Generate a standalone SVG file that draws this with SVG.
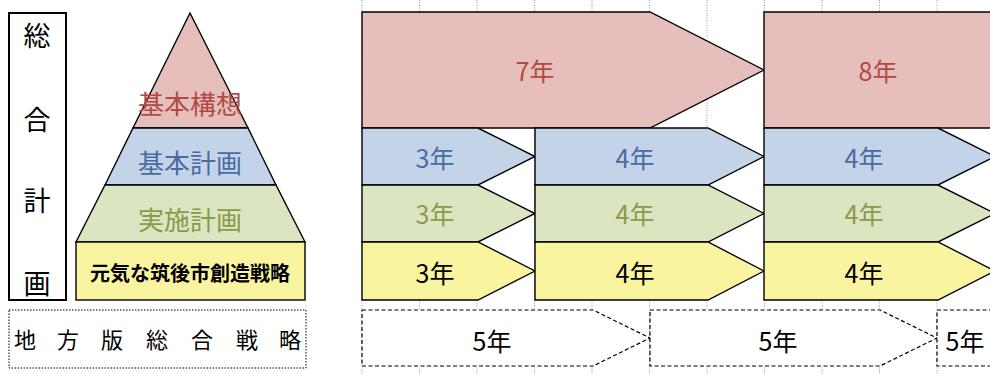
<svg xmlns="http://www.w3.org/2000/svg" width="990" height="374" viewBox="0 0 990 374">
<defs>
<style>
text{font-family:"Noto Sans CJK JP","Noto Sans",sans-serif;text-anchor:middle;dominant-baseline:central}
.grid{stroke:#9a9a9a;stroke-width:1;stroke-dasharray:1 1.5;fill:none}
.sh{stroke:#000;stroke-width:1.4;stroke-linejoin:miter}
.red{fill:#e6bebc}
.blue{fill:#c3d3e8}
.green{fill:#dce5c1}
.yellow{fill:#faf4a0}
.dash{fill:#fff;stroke:#000;stroke-width:1.2;stroke-dasharray:4 2.5}
.tr{fill:#b04a45;font-size:25px}
.tb{fill:#4a6aa2;font-size:25px}
.tg{fill:#8a9a4a;font-size:25px}
.tk{fill:#000;font-size:25px}
.pl{font-size:26px}
</style>
</defs>
<rect width="990" height="374" fill="#fff"/>
<g id="grid" class="grid">
<line x1="362" y1="0" x2="362" y2="374"/>
<line x1="419.5" y1="0" x2="419.5" y2="374"/>
<line x1="477" y1="0" x2="477" y2="374"/>
<line x1="534.5" y1="0" x2="534.5" y2="374"/>
<line x1="592" y1="0" x2="592" y2="374"/>
<line x1="649.5" y1="0" x2="649.5" y2="374"/>
<line x1="707" y1="0" x2="707" y2="374"/>
<line x1="764.5" y1="0" x2="764.5" y2="374"/>
<line x1="822" y1="0" x2="822" y2="374"/>
<line x1="879.5" y1="0" x2="879.5" y2="374"/>
<line x1="937" y1="0" x2="937" y2="374"/>
</g>
<g id="sogo-keikaku">
<rect x="9" y="13" width="57" height="287" fill="#fff" stroke="#000" stroke-width="2"/>
<text x="37" y="34" font-size="27">総</text>
<text x="37" y="118" font-size="27">合</text>
<text x="37" y="199" font-size="27">計</text>
<text x="37" y="282" font-size="27">画</text>
</g>
<g id="kihon-koso">
<polygon class="sh red" points="190,13 248,128 133,128"/>
<text class="tr pl" x="190" y="102">基本構想</text>
</g>
<g id="kihon-keikaku">
<polygon class="sh blue" points="133,128 248,128 276,185 105,185"/>
<text class="tb pl" x="190" y="161">基本計画</text>
</g>
<g id="jisshi-keikaku">
<polygon class="sh green" points="105,185 276,185 305,242 76,242"/>
<text class="tg pl" x="190" y="218">実施計画</text>
</g>
<g id="senryaku">
<rect class="sh yellow" x="76" y="242" width="229" height="58"/>
<text x="190" y="272" font-size="20" font-weight="bold">元気な筑後市創造戦略</text>
</g>
<g id="chiho-senryaku">
<rect x="9" y="310" width="297" height="58" fill="#fff" stroke="#000" stroke-width="1" stroke-dasharray="1.5 1.5"/>
<text x="25" y="338" font-size="22">地</text>
<text x="68" y="338" font-size="22">方</text>
<text x="112" y="338" font-size="22">版</text>
<text x="157" y="338" font-size="22">総</text>
<text x="202" y="338" font-size="22">合</text>
<text x="247" y="338" font-size="22">戦</text>
<text x="290" y="338" font-size="22">略</text>
</g>
<g id="koso-7">
<path class="sh red" d="M362,12 H650 L764,70 L650,128 H362 Z"/>
<text class="tr" x="535" y="70">7年</text>
</g>
<g id="koso-8">
<path class="sh red" d="M764,12 H998 V128 H764 Z"/>
<text class="tr" x="878" y="70">8年</text>
</g>
<g id="kihon-3">
<path class="sh blue" d="M362,128 H478 L535,156.5 L478,185 H362 Z"/>
<text class="tb" x="435" y="157">3年</text>
</g>
<g id="kihon-4a">
<path class="sh blue" d="M535,128 H708 L764,156.5 L708,185 H535 Z"/>
<text class="tb" x="635" y="157">4年</text>
</g>
<g id="kihon-4b">
<path class="sh blue" d="M764,128 H938 L995,156.5 L938,185 H764 Z"/>
<text class="tb" x="864" y="157">4年</text>
</g>
<g id="jisshi-3">
<path class="sh green" d="M362,185 H478 L535,213.5 L478,242 H362 Z"/>
<text class="tg" x="435" y="213">3年</text>
</g>
<g id="jisshi-4a">
<path class="sh green" d="M535,185 H708 L764,213.5 L708,242 H535 Z"/>
<text class="tg" x="635" y="213">4年</text>
</g>
<g id="jisshi-4b">
<path class="sh green" d="M764,185 H938 L995,213.5 L938,242 H764 Z"/>
<text class="tg" x="864" y="213">4年</text>
</g>
<g id="senryaku-3">
<path class="sh yellow" d="M362,242 H478 L535,271 L478,300 H362 Z"/>
<text class="tk" x="435" y="272">3年</text>
</g>
<g id="senryaku-4a">
<path class="sh yellow" d="M535,242 H708 L764,271 L708,300 H535 Z"/>
<text class="tk" x="635" y="272">4年</text>
</g>
<g id="senryaku-4b">
<path class="sh yellow" d="M764,242 H938 L995,271 L938,300 H764 Z"/>
<text class="tk" x="864" y="272">4年</text>
</g>
<g id="chiho-5a">
<path class="dash" d="M362,310 H593 L650,338 L593,366 H362 Z"/>
<text class="tk" x="492" y="340">5年</text>
</g>
<g id="chiho-5b">
<path class="dash" d="M650,310 H880 L937,338 L880,366 H650 Z"/>
<text class="tk" x="778" y="340">5年</text>
</g>
<g id="chiho-5c">
<path class="dash" d="M937,310 H998 M998,366 H937 V310"/>
<text class="tk" x="965" y="340">5年</text>
</g>
</svg>
